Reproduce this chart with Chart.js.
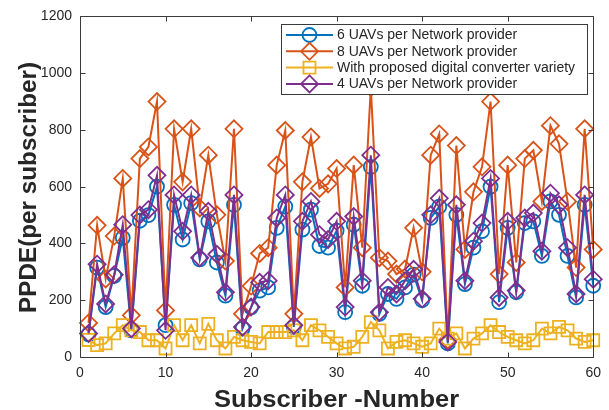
<!DOCTYPE html>
<html>
<head>
<meta charset="utf-8">
<script src="https://cdn.jsdelivr.net/npm/chart.js@4/dist/chart.umd.min.js"></script>
<style>
  html, body { margin: 0; padding: 0; background: #ffffff; }
  #wrap { width: 609px; height: 410px; }
</style>
</head>
<body>
<div id="wrap"><canvas id="c" width="609" height="410"></canvas></div>
<script>
// Subscriber index on the x axis
const subscribers = [
  1, 2, 3, 4, 5, 6, 7, 8, 9, 10,
  11, 12, 13, 14, 15, 16, 17, 18, 19, 20,
  21, 22, 23, 24, 25, 26, 27, 28, 29, 30,
  31, 32, 33, 34, 35, 36, 37, 38, 39, 40,
  41, 42, 43, 44, 45, 46, 47, 48, 49, 50,
  51, 52, 53, 54, 55, 56, 57, 58, 59, 60
];

// PPDE per subscriber for each configuration
const uav6 = [
  80, 315, 176, 286, 420, 94, 480, 500, 600, 112,
  536, 414, 542, 344, 478, 333, 216, 536, 100, 175,
  234, 245, 455, 530, 106, 449, 519, 391, 385, 445,
  158, 466, 251, 670, 152, 222, 205, 245, 290, 200,
  490, 530, 48, 501, 257, 385, 443, 600, 193, 455,
  228, 472, 478, 356, 548, 501, 356, 210, 536, 251
];
const uav8 = [
  120, 464, 275, 426, 629, 147, 699, 740, 900, 164,
  804, 617, 804, 525, 711, 501, 338, 804, 152, 250,
  365, 385, 676, 798, 152, 617, 775, 594, 610, 664,
  245, 676, 385, 950, 350, 338, 292, 310, 455, 300,
  711, 786, 60, 745, 379, 582, 670, 900, 292, 676,
  333, 699, 728, 548, 815, 751, 548, 315, 804, 379
];
const converter = [
  60, 42, 48, 83, 112, 94, 88, 59, 59, 30,
  112, 59, 112, 48, 117, 59, 30, 71, 59, 53,
  48, 88, 88, 88, 94, 59, 112, 94, 71, 48,
  30, 36, 71, 123, 94, 30, 53, 59, 48, 36,
  48, 100, 65, 83, 30, 65, 83, 112, 88, 71,
  59, 48, 59, 100, 83, 106, 94, 65, 53, 59
];
const uav4 = [
  83, 327, 187, 290, 466, 100, 500, 519, 640, 94,
  571, 443, 571, 350, 513, 362, 228, 571, 106, 176,
  263, 269, 490, 571, 112, 478, 548, 431, 414, 478,
  176, 495, 269, 711, 158, 245, 222, 269, 309, 205,
  501, 559, 53, 536, 269, 408, 472, 629, 210, 478,
  234, 490, 507, 373, 577, 536, 385, 222, 571, 274
];

const xTicks = [0, 10, 20, 30, 40, 50, 60];
const yTicks = [0, 200, 400, 600, 800, 1000, 1200];

const seriesNames = [
  '6 UAVs per Network provider',
  '8 UAVs per Network provider',
  'With proposed digital converter variety',
  '4 UAVs per Network provider'
];
const xTitle = 'Subscriber -Number';
const yTitle = 'PPDE(per subscriber)';

const BLUE = '#0072BD', ORANGE = '#D95319', YELLOW = '#EDB120', PURPLE = '#7E2F8E';
const AXIS = '#3a3a3a', TEXT = '#262626';
const FONT = '"Liberation Sans", Arial, Helvetica, sans-serif';

function pts(values) {
  return subscribers.map((s, i) => ({ x: s, y: values[i] }));
}

function makeSet(label, values, color, style, radius, order) {
  return {
    label, data: pts(values), order,
    borderColor: color, backgroundColor: 'rgba(0,0,0,0)',
    borderWidth: 2, tension: 0,
    pointStyle: style, pointRadius: radius, pointHoverRadius: radius,
    pointBorderColor: color, pointBackgroundColor: 'rgba(0,0,0,0)',
    pointBorderWidth: 1.8, clip: false
  };
}

const datasets = [
  makeSet(seriesNames[0], uav6, BLUE, 'circle', 7, 3),
  makeSet(seriesNames[1], uav8, ORANGE, 'rectRot', 8.5, 2),
  makeSet(seriesNames[2], converter, YELLOW, 'rect', 8.5, 1),
  makeSet(seriesNames[3], uav4, PURPLE, 'rectRot', 8.5, 0)
];

// Box, inward ticks, axis titles and the boxed legend
const decorations = {
  id: 'decorations',
  afterDatasetsDraw(chart) {
    const { ctx, chartArea: a, scales: { x, y } } = chart;
    ctx.save();
    ctx.strokeStyle = AXIS;
    ctx.lineWidth = 1;
    const L = Math.round(a.left) + 0.5, R = Math.round(a.right) + 0.5;
    const T = Math.round(a.top) + 0.5, B = Math.round(a.bottom) + 0.5;
    ctx.beginPath();
    ctx.rect(L, T, R - L, B - T);
    const tl = 5;
    xTicks.forEach(v => {
      const px = Math.round(x.getPixelForValue(v)) + 0.5;
      ctx.moveTo(px, B); ctx.lineTo(px, B - tl);
      ctx.moveTo(px, T); ctx.lineTo(px, T + tl);
    });
    yTicks.forEach(v => {
      const py = Math.round(y.getPixelForValue(v)) + 0.5;
      ctx.moveTo(L, py); ctx.lineTo(L + tl, py);
      ctx.moveTo(R, py); ctx.lineTo(R - tl, py);
    });
    ctx.stroke();

    // Legend
    const lx = 281, ly = 24, lw = 306, lh = 70;
    ctx.fillStyle = '#ffffff';
    ctx.fillRect(lx, ly, lw, lh);
    ctx.strokeStyle = AXIS;
    ctx.strokeRect(lx + 0.5, ly + 0.5, lw, lh);
    ctx.font = '14px ' + FONT;
    ctx.textBaseline = 'middle';
    ctx.textAlign = 'left';
    datasets.forEach((ds, i) => {
      const cy = 35 + i * 16.3;
      ctx.strokeStyle = ds.borderColor;
      ctx.lineWidth = 2;
      ctx.beginPath();
      ctx.moveTo(286, cy); ctx.lineTo(333, cy);
      ctx.stroke();
      ctx.lineWidth = ds.pointBorderWidth;
      ctx.fillStyle = 'rgba(0,0,0,0)';
      Chart.helpers.drawPoint(ctx, {
        pointStyle: ds.pointStyle, radius: ds.pointRadius, rotation: 0, borderWidth: ds.pointBorderWidth
      }, 309.5, cy);
      ctx.fillStyle = TEXT;
      ctx.fillText(ds.label, 337, cy + 0.5);
    });

    // Axis titles, stretched to the drawn title lengths
    ctx.fillStyle = TEXT;
    ctx.font = 'bold 23px ' + FONT;
    ctx.textAlign = 'center';
    ctx.textBaseline = 'alphabetic';
    const xw = ctx.measureText(xTitle).width;
    ctx.save();
    ctx.translate((a.left + a.right) / 2, 406.5);
    ctx.scale(245 / xw, 1);
    ctx.fillText(xTitle, 0, 0);
    ctx.restore();

    const yw = ctx.measureText(yTitle).width;
    ctx.save();
    ctx.translate(36, 187.5);
    ctx.rotate(-Math.PI / 2);
    ctx.scale(251 / yw, 1);
    ctx.fillText(yTitle, 0, 0);
    ctx.restore();

    ctx.restore();
  }
};

new Chart(document.getElementById('c'), {
  type: 'line',
  data: { datasets },
  options: {
    responsive: false,
    animation: false,
    devicePixelRatio: 1,
    layout: { padding: { left: 0, top: 14, right: 8, bottom: 0 } },
    plugins: { legend: { display: false }, tooltip: { enabled: false } },
    scales: {
      x: {
        type: 'linear', min: 0, max: 60,
        afterFit: s => { s.height = 53; },
        afterBuildTicks: s => { s.ticks = xTicks.map(v => ({ value: v })); },
        ticks: { color: TEXT, font: { family: FONT, size: 14 }, padding: 8, maxRotation: 0,
                 callback: v => String(v) },
        grid: { display: false, drawTicks: false },
        border: { display: false }
      },
      y: {
        type: 'linear', min: 0, max: 1200,
        afterFit: s => { s.width = 80; },
        afterBuildTicks: s => { s.ticks = yTicks.map(v => ({ value: v })); },
        ticks: { color: TEXT, font: { family: FONT, size: 14 }, padding: 8,
                 callback: v => String(v) },
        grid: { display: false, drawTicks: false },
        border: { display: false }
      }
    }
  },
  plugins: [decorations]
});
</script>
</body>
</html>
